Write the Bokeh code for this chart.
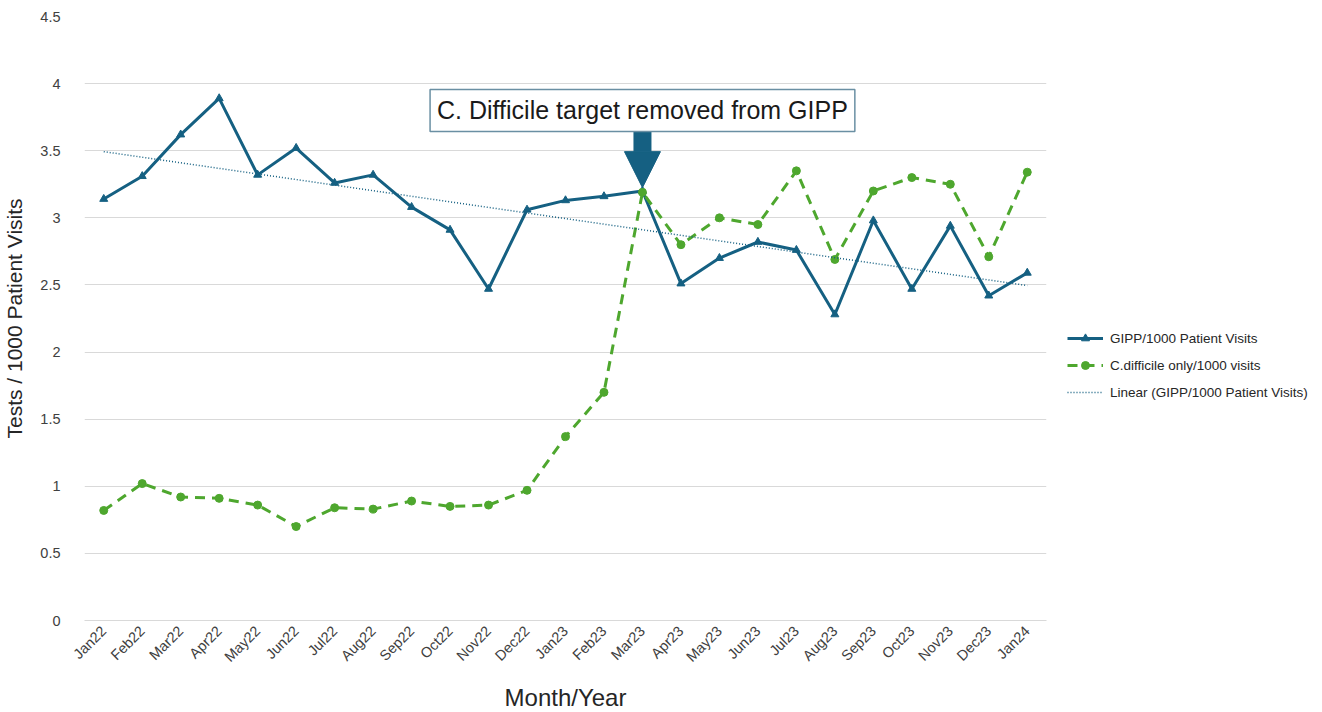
import numpy as np
from bokeh.plotting import figure
from bokeh.models import (FactorRange, Range1d, Legend, LegendItem, Label, Arrow,
                          NormalHead, SingleIntervalTicker)
from bokeh.embed import file_html
from bokeh.resources import INLINE

months = ["Jan22", "Feb22", "Mar22", "Apr22", "May22", "Jun22", "Jul22", "Aug22",
          "Sep22", "Oct22", "Nov22", "Dec22", "Jan23", "Feb23", "Mar23", "Apr23",
          "May23", "Jun23", "Jul23", "Aug23", "Sep23", "Oct23", "Nov23", "Dec23", "Jan24"]
gipp = [3.14, 3.31, 3.62, 3.89, 3.32, 3.52, 3.26, 3.32, 3.08, 2.91, 2.47, 3.06, 3.13,
        3.16, 3.20, 2.51, 2.70, 2.82, 2.76, 2.28, 2.98, 2.47, 2.94, 2.42, 2.59]
cdiff = [0.82, 1.02, 0.92, 0.91, 0.86, 0.70, 0.84, 0.83, 0.89, 0.85, 0.86, 0.97, 1.37,
         1.70, 3.19, 2.80, 3.00, 2.95, 3.35, 2.69, 3.20, 3.30, 3.25, 2.71, 3.34]
annotation_text = "C. Difficile target removed from GIPP"
annotation_month = "Mar23"

BLUE = "#156082"
GREEN = "#4EA72E"
FONT = "Liberation Sans"

# linear trend of GIPP
idx = np.arange(len(gipp))
slope, intercept = np.polyfit(idx, gipp, 1)
trend = list(slope * idx + intercept)

p = figure(width=1306, height=696, output_backend="svg", toolbar_location=None,
           x_range=FactorRange(factors=months, range_padding=0),
           y_range=Range1d(0, 4.5), frame_width=962, frame_height=604,
           min_border_left=75, min_border_right=264,
           min_border_top=16, min_border_bottom=0)
p.outline_line_color = None
p.background_fill_color = "white"

p.xgrid.grid_line_color = None
p.ygrid.grid_line_color = "#d9d9d9"
p.ygrid.grid_line_width = 1
p.yaxis.ticker = SingleIntervalTicker(interval=0.5)
p.yaxis.axis_line_color = None
p.axis.major_tick_line_color = None
p.axis.minor_tick_line_color = None
p.axis.major_tick_out = 0
p.axis.minor_tick_out = 0
p.xaxis.axis_line_color = "#d9d9d9"
p.xaxis.major_label_orientation = np.pi / 4
p.axis.major_label_text_font = FONT
p.axis.major_label_text_font_size = "14.5px"
p.axis.major_label_text_color = "#404040"
p.yaxis.major_label_standoff = 24
p.xaxis.major_label_standoff = 8
p.yaxis.axis_label = "Tests / 1000 Patient Visits"
p.xaxis.axis_label = "Month/Year"
p.axis.axis_label_text_font = FONT
p.axis.axis_label_text_font_style = "normal"
p.axis.axis_label_text_color = "#262626"
p.yaxis.axis_label_text_font_size = "21px"
p.xaxis.axis_label_text_font_size = "24px"
p.yaxis.axis_label_standoff = 11
p.xaxis.axis_label_standoff = 10

g_line = p.line(months, gipp, color=BLUE, line_width=3)
g_mark = p.scatter(months, gipp, marker="triangle", size=8, color=BLUE)
c_line = p.line(months, cdiff, color=GREEN, line_width=3, line_dash="10 7")
c_mark = p.scatter(months, cdiff, marker="circle", size=8, color=GREEN)
t_line = p.line(months, trend, color=BLUE, line_width=1.5, line_dash="1 2")

# annotation
xa = months.index(annotation_month) + 0.5
p.add_layout(Arrow(x_start=xa, y_start=3.66, x_end=xa, y_end=3.225,
                   line_color=BLUE, line_width=18,
                   end=NormalHead(size=36, fill_color=BLUE, line_color=BLUE)))
p.add_layout(Label(x=xa, y=3.80, text=annotation_text, text_align="center",
                   text_baseline="middle", text_font=FONT, text_font_size="25px",
                   text_color="#1a1a1a", background_fill_color="white",
                   border_line_color="#6a8fa3", border_line_width=1.5, padding=7))

legend = Legend(items=[
    LegendItem(label="GIPP/1000 Patient Visits", renderers=[g_line, g_mark]),
    LegendItem(label="C.difficile only/1000 visits", renderers=[c_line, c_mark]),
    LegendItem(label="Linear (GIPP/1000 Patient Visits)", renderers=[t_line]),
], location=(21, 218), label_text_font=FONT, label_text_font_size="13.5px",
    label_text_color="#262626", border_line_color=None, background_fill_alpha=0,
    glyph_width=36, spacing=7, label_standoff=7)
p.add_layout(legend, "right")

open("out.html", "w").write(file_html(p, INLINE))
